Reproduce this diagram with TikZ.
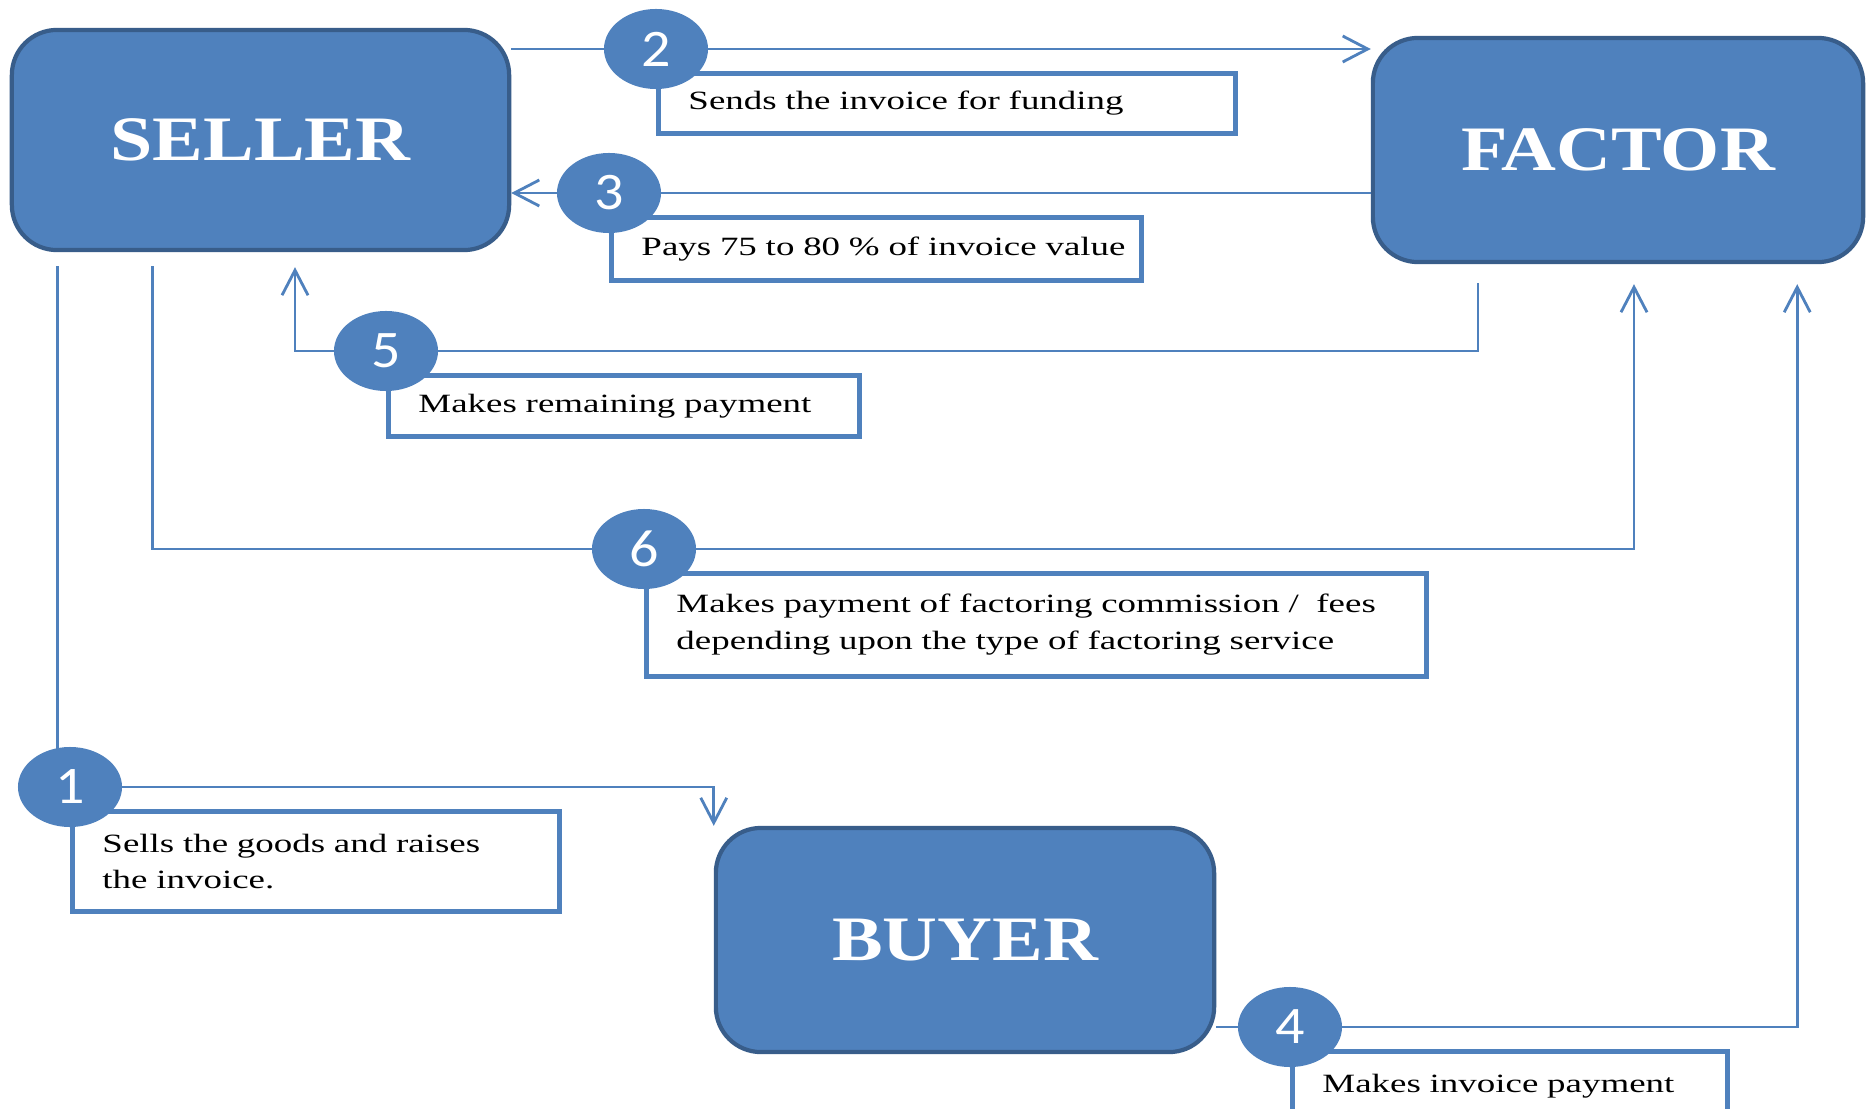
\documentclass[tikz,border=0pt]{standalone}
\usepackage{fontspec}
\setmainfont{Liberation Serif}
\newfontfamily\partyfont[FakeStretch=1.2]{Liberation Serif}
\newfontfamily\notefont[FakeStretch=1.4]{Liberation Serif}
\newfontfamily\numfont[FakeStretch=1.1]{Carlito}
\usetikzlibrary{arrows.meta, positioning, shapes.geometric}
\usepackage{xcolor}
\definecolor{stepblue}{RGB}{79,129,189}
\definecolor{edgeblue}{RGB}{56,93,138}

\begin{document}
\begin{tikzpicture}[x=0.01cm, y=-0.01cm, >={Straight Barb[length=0.25cm, width=0.26cm]}]
    \tikzstyle{party}=[rectangle, rounded corners=0.45cm, fill=stepblue, draw=edgeblue, line width=1.2pt, text=white, font=\partyfont\bfseries\fontsize{18}{20}\selectfont]
    \tikzstyle{step circle}=[ellipse, fill=stepblue, minimum width=1.04cm, minimum height=0.8cm, inner sep=0pt, text=white, font=\numfont\fontsize{15}{15}\selectfont]
    \tikzstyle{note}=[rectangle, draw=stepblue, line width=1.4pt, fill=white, inner xsep=0.3cm, inner ysep=0pt, align=left, font=\notefont\fontsize{7.5}{10.5}\selectfont]
    \tikzstyle{flow}=[->, draw=stepblue, line width=0.8pt]

    \path[use as bounding box, fill=white] (0,0) rectangle (1866,1109);

    % Where the numbered steps sit
    \foreach \n/\x/\y in {1/70/787, 2/656/49, 3/609/193, 4/1290/1027, 5/386/351, 6/644/549}
        \coordinate (P-\n) at (\x,\y);

    % Draw the note boxes, hanging under each step
    \node[note, text width=4.27cm, minimum height=1cm, below right=0.22cm and 0cm of P-1] (L-1)
        {Sells the goods and raises\\the invoice.};
    \node[note, text width=5.17cm, minimum height=0.6cm, below right=0.22cm and 0cm of P-2] (L-2)
        {\mbox{Sends the invoice for funding}};
    \node[note, text width=4.7cm, minimum height=0.63cm, below right=0.22cm and 0cm of P-3] (L-3)
        {\mbox{Pays 75 to 80 \% of invoice value}};
    \node[note, text width=3.75cm, minimum height=0.7cm, below right=0.22cm and 0cm of P-4] (L-4)
        {\mbox{Makes invoice payment}};
    \node[note, text width=4.11cm, minimum height=0.61cm, below right=0.22cm and 0cm of P-5] (L-5)
        {\mbox{Makes remaining payment}};
    \node[note, text width=7.2cm, minimum height=1.03cm, below right=0.22cm and 0cm of P-6] (L-6)
        {\mbox{Makes payment of factoring commission /~ fees}\\\mbox{depending upon the type of factoring service}};

    % Draw the three parties
    \node[party, minimum width=4.97cm, minimum height=2.2cm] (seller) at (260.5,140) {SELLER};
    \node[party, minimum width=4.9cm, minimum height=2.24cm] (factor) at (1618,150) {FACTOR};
    \node[party, minimum width=4.98cm, minimum height=2.24cm] (buyer) at (965,940) {BUYER};

    % Connect the parties, each flow passing through its step
    \draw[flow, shorten <=0.14cm] ([xshift=0.48cm]seller.south west) |- (P-1) -| (buyer.north west);
    \draw[flow] (seller.east |- P-2) -- (factor.west |- P-2);
    \draw[flow] (factor.west |- P-3) -- (seller.east |- P-3);
    \draw[flow, shorten >=0.2cm] (buyer.east |- P-4) -| ([xshift=-0.68cm]factor.south east);
    \draw[flow, shorten <=0.19cm, shorten >=0.15cm] ([xshift=-1.4cm]factor.south) |- (P-5) -| ([xshift=0.345cm]seller.south);
    \draw[flow, shorten <=0.14cm, shorten >=0.2cm] ([xshift=1.43cm]seller.south west) |- (P-6) -| ([xshift=0.16cm]factor.south);

    % Draw the numbered steps on top
    \foreach \n in {1,...,6}
        \node[step circle] (C-\n) at (P-\n) {\n};
\end{tikzpicture}
\end{document}
